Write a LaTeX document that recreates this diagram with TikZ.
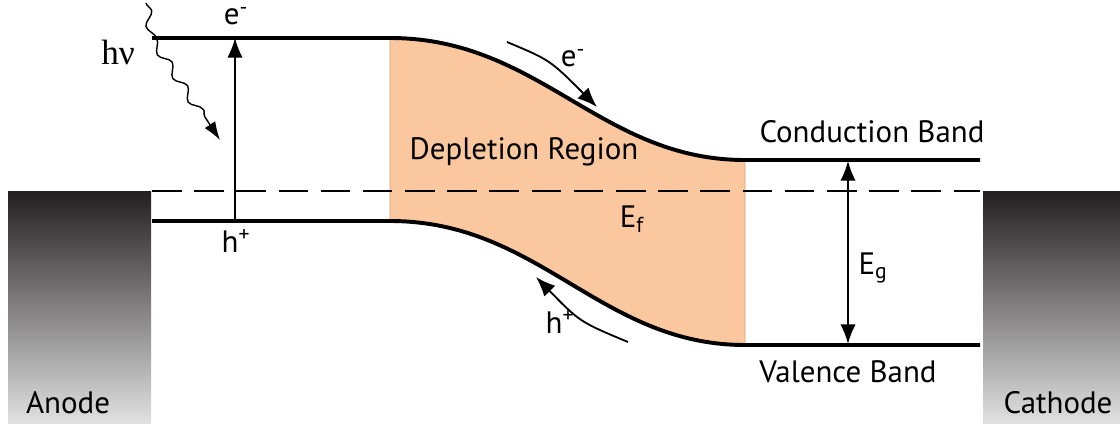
\documentclass[tikz,border=0pt]{standalone}
\usepackage{fontspec}
\setmainfont{Liberation Serif}
\setsansfont{PT Sans}
\usetikzlibrary{arrows.meta,decorations.pathmorphing}

\definecolor{depletion}{RGB}{251,199,158}
\definecolor{depletionedge}{RGB}{220,160,115}
\definecolor{electrode}{RGB}{35,31,32}

\begin{document}
\begin{tikzpicture}[x=0.025cm,y=-0.025cm,
	band/.style={line width=2.8pt},
	fermi/.style={line width=1.3pt, dash pattern=on 21pt off 9pt},
	arrowline/.style={line width=1.3pt, -{Latex[length=14pt,width=11pt]}},
	lbl/.style={font=\sffamily\fontsize{22}{25}\selectfont, inner sep=0pt},
	electrodebox/.style={top color=electrode, middle color=black!80, bottom color=black!12}]

	% Frame
	\useasboundingbox (0,0) rectangle (1120,423);

	% Coordinates
	\coordinate (CBl) at (152,38);
	\coordinate (CBm) at (390,38);
	\coordinate (CBn) at (745,160);
	\coordinate (CBr) at (980,160);
	\coordinate (VBl) at (152,221);
	\coordinate (VBm) at (390,221);
	\coordinate (VBn) at (745,345);
	\coordinate (VBr) at (980,345);
	\coordinate (EFl) at (152,191);
	\coordinate (EFr) at (980,191);

	% Electrodes
	\shade[electrodebox] (8,191) rectangle (151,423);
	\shade[electrodebox] (983,191) rectangle (1120,423);
	\node[lbl] (anode) at (68,403) {Anode};
	\node[lbl] (cathode) at (1058,403) {Cathode};

	% Depletion region
	\filldraw[fill=depletion, draw=depletionedge, line width=0.6pt]
		(CBm) .. controls (540,38) and (600,160) .. (CBn)
		-- (VBn) .. controls (600,345) and (540,221) .. (VBm) -- cycle;
	\node[lbl] (depl) at (524,152) {Depletion Region};

	% Fermi level
	\draw[fermi] (EFl) -- (EFr);
	\node[lbl] (Ef) at (632,219) {E\textsubscript{f}};

	% Bands
	\draw[band] (CBl) -- (CBm) .. controls (540,38) and (600,160) .. (CBn) -- (CBr);
	\draw[band] (VBl) -- (VBm) .. controls (540,221) and (600,345) .. (VBn) -- (VBr);
	\node[lbl, anchor=base] (cband) at (872,142) {Conduction Band};
	\node[lbl, anchor=base] (vband) at (848,382) {Valence Band};

	% Excitation
	\coordinate (hole) at (235,221);
	\coordinate (elec) at (235,38);
	\draw[arrowline] (hole) -- (elec);
	\node[lbl] (eup) at (236,16) {e\textsuperscript{-}};
	\node[lbl] (hdown) at (236,241) {h\textsuperscript{+}};

	% Photon
	\node[font=\fontsize{25}{28}\selectfont, inner sep=0pt] (hnu) at (118,52) {hν};
	\coordinate (ph0) at (146,3);
	\coordinate (ph1) at (152,36);
	\coordinate (ph2) at (220,140);
	\draw[line width=1pt, -{Latex[length=13pt,width=9pt]}, decorate,
		decoration={snake, amplitude=3pt, segment length=20pt, post length=10pt}]
		(ph0) -- (ph1) -- (ph2);

	% Carrier drift
	\coordinate (e0) at (507,42);
	\coordinate (e1) at (597,107);
	\draw[arrowline] (e0) .. controls (550,60) .. (e1);
	\node[lbl] (edrift) at (573,58) {e\textsuperscript{-}};
	\coordinate (h0) at (628,342);
	\coordinate (h1) at (536,277);
	\draw[arrowline] (h0) .. controls (580,322) .. (h1);
	\node[lbl] (hdrift) at (560,322) {h\textsuperscript{+}};

	% Band gap
	\coordinate (gtop) at (848,161);
	\coordinate (gbot) at (848,344);
	\draw[line width=1.3pt, {Latex[length=14pt,width=11pt]}-{Latex[length=14pt,width=11pt]}] (gbot) -- (gtop);
	\node[lbl] (Eg) at (873,268) {E\textsubscript{g}};

\end{tikzpicture}
\end{document}
